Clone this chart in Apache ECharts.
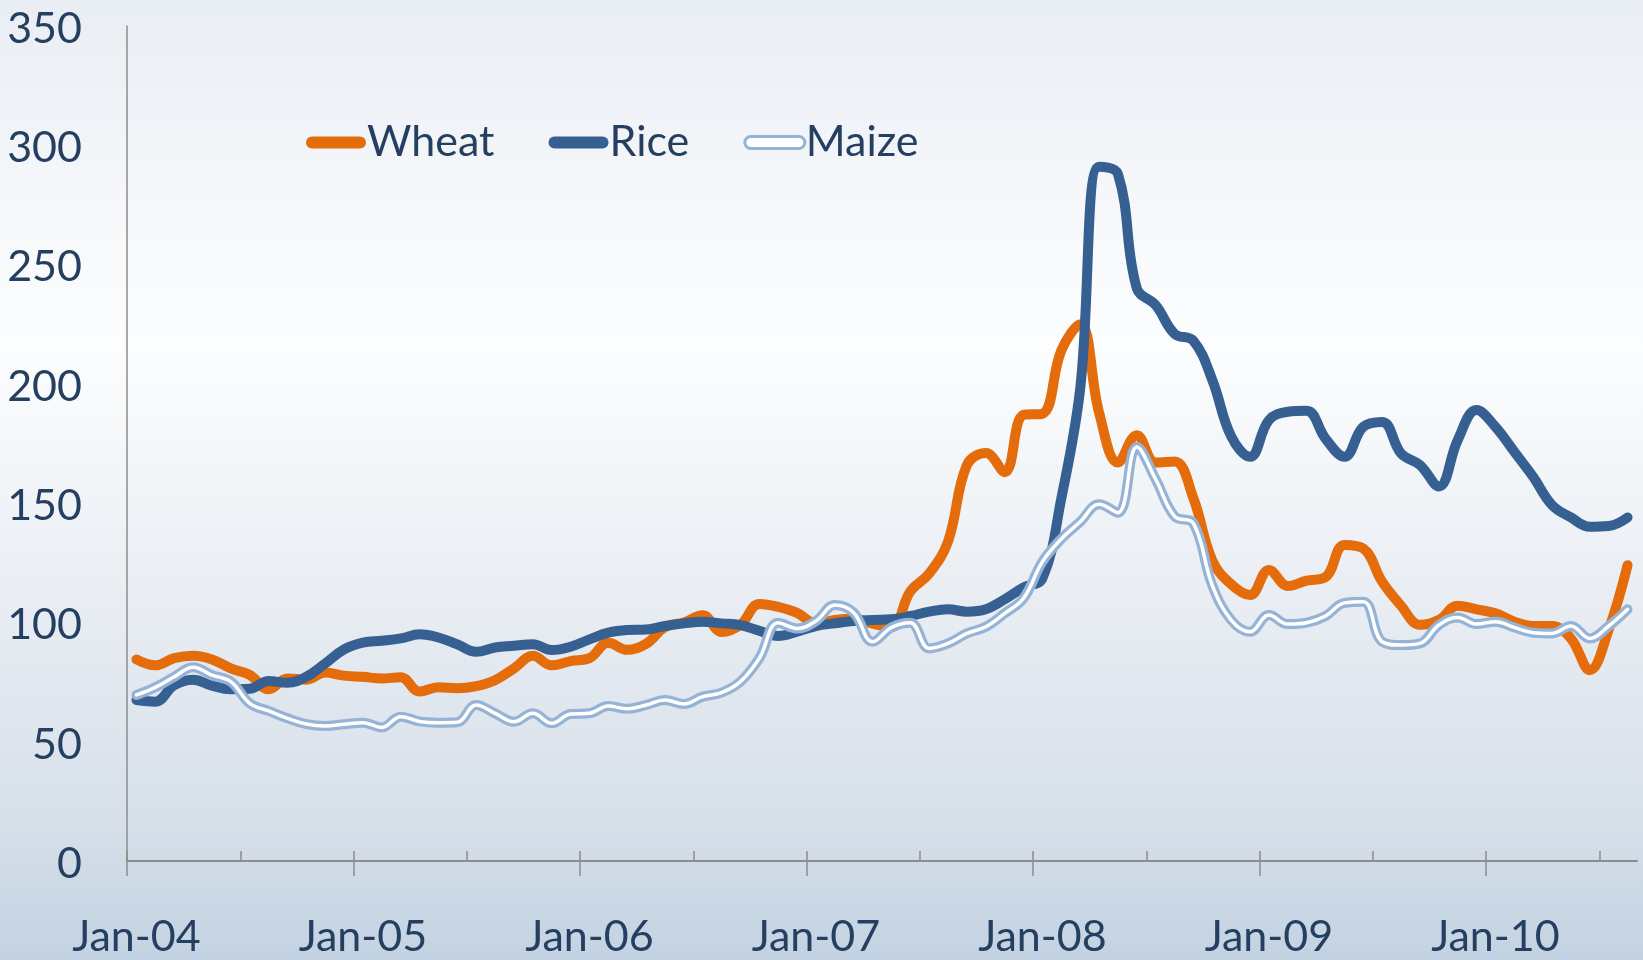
<!DOCTYPE html>
<html>
<head>
<meta charset="utf-8">
<title>Wheat, Rice, Maize</title>
<script src="https://cdn.jsdelivr.net/npm/echarts@6.0.0/dist/echarts.min.js"></script>
<style>
  html, body { margin: 0; padding: 0; }
  #chart { width: 1643px; height: 960px; }
</style>
</head>
<body>
<div id="chart"></div>
<script>
// monthly categories, Jan-04 .. Aug-10
var categories = [
  "Jan-04", "Feb-04", "Mar-04", "Apr-04", "May-04", "Jun-04", "Jul-04", "Aug-04", "Sep-04", "Oct-04", "Nov-04", "Dec-04",
  "Jan-05", "Feb-05", "Mar-05", "Apr-05", "May-05", "Jun-05", "Jul-05", "Aug-05", "Sep-05", "Oct-05", "Nov-05", "Dec-05",
  "Jan-06", "Feb-06", "Mar-06", "Apr-06", "May-06", "Jun-06", "Jul-06", "Aug-06", "Sep-06", "Oct-06", "Nov-06", "Dec-06",
  "Jan-07", "Feb-07", "Mar-07", "Apr-07", "May-07", "Jun-07", "Jul-07", "Aug-07", "Sep-07", "Oct-07", "Nov-07", "Dec-07",
  "Jan-08", "Feb-08", "Mar-08", "Apr-08", "May-08", "Jun-08", "Jul-08", "Aug-08", "Sep-08", "Oct-08", "Nov-08", "Dec-08",
  "Jan-09", "Feb-09", "Mar-09", "Apr-09", "May-09", "Jun-09", "Jul-09", "Aug-09", "Sep-09", "Oct-09", "Nov-09", "Dec-09",
  "Jan-10", "Feb-10", "Mar-10", "Apr-10", "May-10", "Jun-10", "Jul-10", "Aug-10"
];

var wheat = [
  84.5, 82, 85, 86, 84.5, 80.7, 78, 72, 76.5, 76, 79, 77.7,
  77.2, 76.5, 77, 71, 72.8, 72.4, 73.3, 75.8, 80.7, 86, 82, 83.8,
  85, 91.5, 88.5, 91, 98, 100, 103, 96, 99, 107.7, 106.5, 104,
  99.6, 101, 101.5, 99.5, 98, 113, 120.5, 134, 166, 171, 163, 187,
  187.5, 214, 225, 188, 167, 178.5, 167, 167.5, 152, 126, 116, 111.5,
  122, 115.3, 117.5, 119, 132.5, 131, 117, 107, 99, 101, 107, 105.5,
  103.8, 100.3, 98.5, 98.5, 93.3, 80, 97, 124
];

var rice = [
  67.5, 66.8, 73.7, 76, 73.5, 72, 72.2, 75.5, 74.7, 77.2, 82.8, 88.7,
  91.5, 92.3, 93.3, 95, 93.7, 90.8, 87.7, 89.5, 90.2, 90.9, 88.4, 89.8,
  92.9, 95.7, 96.8, 97, 98.5, 99.6, 100.3, 99.6, 98.9, 96.5, 94.3, 96.1,
  98.5, 99.6, 100.6, 101, 101.3, 102.7, 104.5, 105.5, 104.5, 105.5, 109.7, 114.7,
  118.5, 152, 198, 291, 288, 240, 233, 221, 218, 201.6, 178, 169.4,
  184.8, 188.3, 188.7, 177, 169.4, 182, 184, 170.8, 166, 157, 176.4, 189,
  182, 171.5, 161, 149.2, 144, 140.1, 140.4, 144
];

var maize = [
  69.6, 72.8, 77.2, 81.2, 77.9, 75.2, 66.1, 62.9, 59.8, 57.4, 56.6, 57.3,
  58, 56, 60.5, 58.5, 58, 58.2, 65.4, 61.9, 58.4, 61.9, 57.7, 61.6,
  61.9, 65, 63.8, 65.4, 67.5, 65.8, 68.9, 70.6, 75.2, 85, 99.9, 97.5,
  100.6, 107.3, 104.1, 91.9, 97.9, 99.9, 89.1, 91.2, 95.4, 98.2, 103.8, 110.1,
  125.5, 135, 142.2, 149.5, 146, 173.5, 160, 144.5, 141.5, 115.5, 101, 96.1,
  103.1, 99.3, 99.9, 102.7, 108.2, 108.7, 91.9, 90.5, 91.2, 98.9, 102.1, 99.3,
  100.3, 97.9, 95.7, 95.4, 98.5, 93.3, 98.5, 105.5
];

// tick marks sit on the month boundaries (category index - 0.5)
var halfYearTicks = [-0.5, 5.5, 11.5, 17.5, 23.5, 29.5, 35.5, 41.5, 47.5, 53.5, 59.5, 65.5, 71.5, 77.5];
var januaryTicks = [-0.5, 11.5, 23.5, 35.5, 47.5, 59.5, 71.5];

var textColor = "#243F60";
var axisColor = "#8C8C8C";
var fontFamily = "Lato, 'Open Sans', sans-serif";
// capsule shape used for the legend keys
var capsule = "path://M6 0H54A6 6 0 0 1 54 12H6A6 6 0 0 1 6 0Z";

var chart = echarts.init(document.getElementById("chart"));

// hidden value axis spanning the same band range, used only for tick marks
function tickAxis(values, inside, length) {
  return {
    type: "value",
    min: -0.5,
    max: categories.length - 0.5,
    position: "bottom",
    axisLine: { show: false, onZero: false },
    axisLabel: { show: false },
    splitLine: { show: false },
    axisTick: {
      show: true,
      inside: inside,
      length: length,
      customValues: values,
      lineStyle: { color: axisColor, width: 1.5 }
    }
  };
}

chart.setOption({
  animation: false,
  backgroundColor: new echarts.graphic.LinearGradient(0, 0, 0, 1, [
    { offset: 0, color: "#e9eef4" },
    { offset: 0.25, color: "#f8f9fb" },
    { offset: 0.36, color: "#fcfdfe" },
    { offset: 0.5, color: "#f2f5f8" },
    { offset: 0.68, color: "#e5eaf1" },
    { offset: 0.86, color: "#d6dfe9" },
    { offset: 1, color: "#c3d2e2" }
  ]),
  textStyle: { fontFamily: fontFamily },
  grid: {
    left: 127,
    right: 6,
    top: 26,
    bottom: 99,
    outerBoundsMode: "none"
  },
  legend: {
    left: 301,
    top: 116,
    itemWidth: 60,
    itemHeight: 12,
    itemGap: 54,
    textStyle: {
      fontSize: 43,
      color: textColor,
      fontFamily: fontFamily,
      padding: [0, 0, 0, -4]
    },
    data: [
      { name: "Wheat", icon: capsule, itemStyle: { color: "#E46C0A", borderWidth: 0 } },
      { name: "Rice", icon: capsule, itemStyle: { color: "#366092", borderWidth: 0 } },
      { name: "Maize", icon: capsule, itemStyle: { color: "#ffffff", borderColor: "#95B3D7", borderWidth: 3 } }
    ]
  },
  xAxis: [
    {
      type: "category",
      data: categories,
      boundaryGap: true,
      axisLine: { show: true, onZero: false, lineStyle: { color: axisColor, width: 2 } },
      axisTick: { show: false },
      axisLabel: {
        interval: 11,
        margin: 55,
        fontSize: 43,
        color: textColor,
        fontFamily: fontFamily
      },
      splitLine: { show: false }
    },
    // short inside ticks every six months
    tickAxis(halfYearTicks, true, 10),
    // January ticks also cross below the axis
    tickAxis(januaryTicks, false, 15)
  ],
  yAxis: {
    type: "value",
    min: 0,
    max: 350,
    interval: 50,
    axisLine: { show: true, onZero: false, lineStyle: { color: axisColor, width: 1.5 } },
    axisTick: { show: false },
    splitLine: { show: false },
    axisLabel: {
      margin: 45,
      color: textColor,
      formatter: "{v|{value}}",
      rich: {
        v: {
          fontSize: 43,
          color: textColor,
          fontFamily: fontFamily,
          padding: [6, 0, 0, 0]
        }
      }
    }
  },
  series: [
    {
      name: "Wheat",
      type: "line",
      data: wheat,
      smooth: 0.4,
      showSymbol: false,
      itemStyle: { color: "#E46C0A" },
      lineStyle: { color: "#E46C0A", width: 10, cap: "round", join: "round" }
    },
    {
      name: "Rice",
      type: "line",
      data: rice,
      smooth: 0.4,
      showSymbol: false,
      itemStyle: { color: "#366092" },
      lineStyle: { color: "#366092", width: 10, cap: "round", join: "round" }
    },
    {
      name: "Maize",
      type: "line",
      data: maize,
      smooth: 0.4,
      showSymbol: false,
      itemStyle: { color: "#95B3D7" },
      lineStyle: { color: "#95B3D7", width: 10, cap: "round", join: "round" }
    },
    {
      // white core of the double maize line
      name: "Maize",
      type: "line",
      data: maize,
      smooth: 0.4,
      showSymbol: false,
      itemStyle: { color: "#ffffff" },
      lineStyle: { color: "#ffffff", width: 3.5, cap: "round", join: "round" }
    }
  ]
});
</script>
</body>
</html>
